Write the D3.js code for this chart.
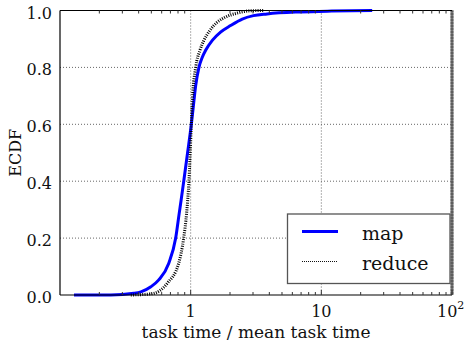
<!DOCTYPE html>
<html>
<head>
<meta charset="utf-8">
<script src="https://cdn.jsdelivr.net/npm/d3@7"></script>
<style>
  html, body { margin: 0; padding: 0; background: #fff; }
</style>
</head>
<body>
<svg id="chart" width="464" height="347"></svg>
<script>
// ECDF of normalised task time (task time / mean task time)
const mapTime = [0.128, 0.245, 0.368, 0.416, 0.496, 0.570, 0.679, 0.768, 0.817, 0.845, 0.885, 0.947, 1.012, 1.060, 1.092, 1.157, 1.225, 1.302, 1.464, 1.694, 2.020, 2.481, 3.024, 3.846, 6.92, 12.0, 24.5];
const mapECDF = [0.0, 0.0, 0.006, 0.011, 0.029, 0.053, 0.111, 0.200, 0.287, 0.333, 0.400, 0.500, 0.600, 0.684, 0.735, 0.800, 0.835, 0.860, 0.895, 0.924, 0.947, 0.970, 0.982, 0.988, 0.995, 0.998, 1.0];

const reduceTime = [0.348, 0.496, 0.580, 0.664, 0.810, 0.884, 0.932, 0.970, 1.012, 1.030, 1.092, 1.178, 1.263, 1.404, 1.598, 1.849, 2.273, 2.870, 3.6];
const reduceECDF = [0.0, 0.004, 0.015, 0.042, 0.112, 0.200, 0.290, 0.400, 0.600, 0.684, 0.800, 0.860, 0.895, 0.930, 0.959, 0.977, 0.991, 0.999, 1.0];

const yTicks = [0.0, 0.2, 0.4, 0.6, 0.8, 1.0];
const xTicks = [1, 10, 100];
const xTickLabels = ["1", "10", "10^2"];
const seriesNames = ["map", "reduce"];

const FONT = "'DejaVu Serif'";
const svg = d3.select("#chart");
const L = 60, R = 452, T = 10.5, B = 295;

const x = d3.scaleLog().domain([0.1, 100]).range([L, R]);
const y = d3.scaleLinear().domain([0, 1]).range([B, T]);

// grid
const grid = svg.append("g").attr("stroke", "#666").attr("stroke-width", 1).attr("stroke-dasharray", "1,2");
grid.selectAll("line.h").data(yTicks.slice(1, -1)).join("line")
  .attr("x1", L).attr("x2", R).attr("y1", d => y(d)).attr("y2", d => y(d));
grid.selectAll("line.v").data(xTicks.slice(0, -1)).join("line")
  .attr("x1", d => x(d)).attr("x2", d => x(d)).attr("y1", T).attr("y2", B);

// curves
const line = d3.line().x(d => x(d[0])).y(d => y(d[1])).curve(d3.curveMonotoneX);
svg.append("path").datum(mapTime.map((t, i) => [t, mapECDF[i]]))
  .attr("d", line).attr("fill", "none").attr("stroke", "#0000ff").attr("stroke-width", 3);
svg.append("path").datum(reduceTime.map((t, i) => [t, reduceECDF[i]]))
  .attr("d", line).attr("fill", "none").attr("stroke", "#000").attr("stroke-width", 3)
  .attr("stroke-dasharray", "1,1.3");

// frame
svg.append("line").attr("x1", R).attr("x2", R).attr("y1", T).attr("y2", B)
  .attr("stroke", "#777").attr("stroke-width", 3);
svg.append("line").attr("x1", R).attr("x2", R).attr("y1", T).attr("y2", B)
  .attr("stroke", "#444").attr("stroke-width", 3).attr("stroke-dasharray", "1,2");
svg.append("line").attr("x1", L).attr("x2", R).attr("y1", T).attr("y2", T).attr("stroke", "#000").attr("stroke-width", 1.2);
svg.append("line").attr("x1", L).attr("x2", R).attr("y1", B).attr("y2", B).attr("stroke", "#000").attr("stroke-width", 1.2);
svg.append("line").attr("x1", L).attr("x2", L).attr("y1", T).attr("y2", B).attr("stroke", "#000").attr("stroke-width", 1.2);

// minor log ticks on bottom and top
const minor = [];
[0.1, 1, 10].forEach(dec => { for (let k = 2; k <= 9; k++) minor.push(dec * k); });
const tk = svg.append("g").attr("stroke", "#333").attr("stroke-width", 1);
tk.selectAll("line.mb").data(minor).join("line")
  .attr("x1", d => x(d)).attr("x2", d => x(d)).attr("y1", B).attr("y2", B - 3);
tk.selectAll("line.mt").data(minor).join("line")
  .attr("x1", d => x(d)).attr("x2", d => x(d)).attr("y1", T).attr("y2", T + 3);
tk.selectAll("line.Mb").data(xTicks).join("line")
  .attr("x1", d => x(d)).attr("x2", d => x(d)).attr("y1", B).attr("y2", B - 5);

// y tick labels
svg.append("g").selectAll("text").data(yTicks).join("text")
  .style("font-family", FONT)
  .attr("x", 52).attr("y", d => y(d) + 8).attr("text-anchor", "end")
  .attr("font-size", 16).attr("fill", "#111").text(d => d.toFixed(1));

// x tick labels
const xl = svg.append("g").attr("font-size", 16).attr("fill", "#111").style("font-family", FONT);
xTicks.forEach((v, i) => {
  const lab = xTickLabels[i];
  if (lab.includes("^")) {
    const [base, exp] = lab.split("^");
    const t = xl.append("text").attr("x", x(v) - 15).attr("y", 317).attr("text-anchor", "start");
    t.append("tspan").text(base);
    t.append("tspan").attr("dy", -8).attr("font-size", 11).text(exp);
  } else {
    xl.append("text").attr("x", x(v)).attr("y", 317).attr("text-anchor", "middle").text(lab);
  }
});

// axis titles
svg.append("text").style("font-family", FONT).attr("x", (L + R) / 2).attr("y", 338).attr("text-anchor", "middle")
  .attr("font-size", 17).attr("fill", "#111").text("task time / mean task time");
svg.append("text").style("font-family", FONT).attr("transform", `translate(21,${(T + B) / 2}) rotate(-90)`)
  .attr("text-anchor", "middle").attr("font-size", 16).attr("fill", "#111").text("ECDF");

// legend
const lg = svg.append("g");
lg.append("rect").attr("x", 287.5).attr("y", 214).attr("width", 162.5).attr("height", 69.5)
  .attr("fill", "#fff").attr("stroke", "#555").attr("stroke-width", 1.3);
lg.append("line").attr("x1", 302).attr("x2", 338).attr("y1", 231.5).attr("y2", 231.5)
  .attr("stroke", "#0000ff").attr("stroke-width", 3);
lg.append("line").attr("x1", 302).attr("x2", 338).attr("y1", 261.5).attr("y2", 261.5)
  .attr("stroke", "#111").attr("stroke-width", 1.2).attr("stroke-dasharray", "1,1");
lg.selectAll("text").data(seriesNames).join("text")
  .style("font-family", FONT)
  .attr("x", 362).attr("y", (d, i) => 240 + i * 30)
  .attr("font-size", 19).attr("fill", "#111").text(d => d);
</script>
</body>
</html>
